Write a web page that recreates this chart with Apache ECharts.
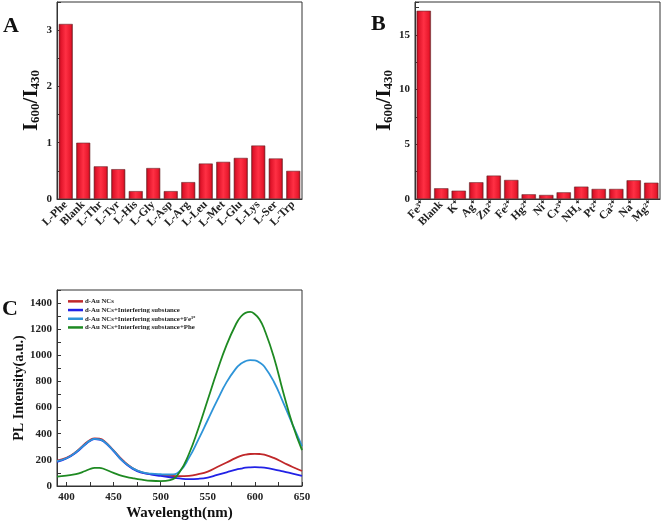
<!DOCTYPE html>
<html>
<head>
<meta charset="utf-8">
<script src="https://cdn.jsdelivr.net/npm/echarts@6/dist/echarts.min.js"></script>
<style>html,body{margin:0;padding:0;background:#fff}#c{width:661px;height:522px}</style>
</head>
<body>
<div id="c"></div>
<script>
// Panel A
const catA = ['L-Phe','Blank','L-Thr','L-Tyr','L-His','L-Gly','L-Asp','L-Arg','L-Leu','L-Met','L-Glu','L-Lys','L-Ser','L-Trp'];
const valA = [3.11,1.00,0.58,0.53,0.14,0.55,0.14,0.30,0.63,0.66,0.73,0.95,0.72,0.50];
// Panel B
const catB = ['Fe³⁺','Blank','K⁺','Ag⁺','Zn²⁺','Fe²⁺','Hg²⁺','Ni⁺','Cr³⁺','NH₄⁺','Pt²⁺','Ca²⁺','Na⁺','Mg²⁺'];
const valB = [17.2,0.98,0.76,1.53,2.14,1.74,0.43,0.37,0.61,1.13,0.92,0.92,1.71,1.49];
// Panel C
const seriesNamesC = ['d-Au NCs','d-Au NCs+Interfering substance','d-Au NCs+Interfering substance+Fe³⁺','d-Au NCs+Interfering substance+Phe'];
const wavelength = [390,400,410,420,425,430,435,440,450,460,470,480,490,500,510,520,530,540,550,560,570,580,585,590,595,600,605,610,620,630,640,650];
const auNCs      = [195,215,260,325,352,365,362,345,272,195,138,105,92,83,78,75,78,90,110,145,180,215,230,240,245,246,245,240,215,180,145,115];
const auInterf   = [185,210,255,318,345,358,355,338,267,188,133,102,88,77,67,58,52,55,65,85,105,125,133,140,143,144,143,140,128,112,95,78];
const auFe       = [190,212,258,320,347,360,357,340,270,190,137,106,95,90,88,112,215,355,505,655,795,900,935,955,964,962,945,915,800,640,470,305];
const auPhe      = [72,80,90,115,130,138,139,130,100,75,60,48,40,38,45,105,245,440,660,880,1080,1240,1295,1325,1332,1315,1275,1200,990,720,470,275];
const ticksCx = [400,450,500,550,600,650];
const ticksCxMinor = [400,425,450,475,500,525,550,575,600,625,650];

const FONT = 'Liberation Serif';
const axisCol = '#333';
const barColor = new echarts.graphic.LinearGradient(0,0,1,0,[
  {offset:0,color:'#9a0c18'},{offset:0.15,color:'#e0142a'},{offset:0.5,color:'#ff3044'},
  {offset:0.85,color:'#e8182c'},{offset:1,color:'#9a0c18'}]);

function yName(gap){
  return {
    name: '{b|I}{s|600}{b|/I}{s|430}',
    nameLocation: 'middle', nameGap: gap, nameRotate: 90,
    nameTextStyle: {
      rich: {
        b: {fontFamily: FONT, fontWeight: 'bold', fontSize: 21, color: '#111', lineHeight: 22},
        s: {fontFamily: FONT, fontWeight: 'bold', fontSize: 13, color: '#111', lineHeight: 22, verticalAlign: 'bottom', padding:[8,0,0,0]}
      }
    }
  };
}
const plain = v => String(v);

const chart = echarts.init(document.getElementById('c'), null, {renderer: 'canvas'});
const option = {
  animation: false,
  backgroundColor: '#fff',
  grid: [
    {left: 57, top: 2, width: 245, height: 197, show: true, borderColor: axisCol, borderWidth: 1},
    {left: 415, top: 2, width: 245, height: 197, show: true, borderColor: axisCol, borderWidth: 1},
    {left: 57, top: 290, width: 245, height: 196, show: true, borderColor: axisCol, borderWidth: 1}
  ],
  xAxis: [
    {gridIndex: 0, type: 'category', data: catA,
     axisLine: {lineStyle: {color: axisCol}}, axisTick: {show: false},
     axisLabel: {rotate: 45, margin: 4, fontFamily: FONT, fontWeight: 'bold', fontSize: 11.5, color: '#222', interval: 0}},
    {gridIndex: 1, type: 'category', data: catB,
     axisLine: {lineStyle: {color: axisCol}}, axisTick: {show: false},
     axisLabel: {rotate: 45, margin: 4, fontFamily: FONT, fontWeight: 'bold', fontSize: 11.5, color: '#222', interval: 0}},
    {gridIndex: 2, type: 'value', min: 390, max: 650,
     axisLine: {lineStyle: {color: axisCol}},
     axisTick: {inside: true, length: 4, customValues: ticksCxMinor, lineStyle: {color: axisCol}},
     axisLabel: {customValues: ticksCx, formatter: plain, margin: 6, fontFamily: FONT, fontWeight: 'bold', fontSize: 11, color: '#222'},
     splitLine: {show: false},
     name: 'Wavelength(nm)', nameLocation: 'middle', nameGap: 20,
     nameTextStyle: {fontFamily: FONT, fontWeight: 'bold', fontSize: 15, color: '#111'}}
  ],
  yAxis: [
    Object.assign({gridIndex: 0, type: 'value', min: 0, max: 3.5, interval: 1,
     axisLine: {show: true, lineStyle: {color: axisCol}},
     axisTick: {show: true, inside: true, length: 4, lineStyle: {color: axisCol}},
     minorTick: {show: true, splitNumber: 2, length: 4, lineStyle: {color: axisCol}},
     axisLabel: {showMaxLabel: false, formatter: plain, margin: 5, fontFamily: FONT, fontWeight: 'bold', fontSize: 11, color: '#222'},
     splitLine: {show: false}}, yName(11)),
    Object.assign({gridIndex: 1, type: 'value', min: 0, max: 18, interval: 5,
     axisLine: {show: true, lineStyle: {color: axisCol}},
     axisTick: {show: true, inside: true, length: 4, lineStyle: {color: axisCol}},
     minorTick: {show: true, splitNumber: 2, length: 4, lineStyle: {color: axisCol}},
     axisLabel: {showMaxLabel: false, formatter: plain, margin: 5, fontFamily: FONT, fontWeight: 'bold', fontSize: 11, color: '#222'},
     splitLine: {show: false}}, yName(17)),
    {gridIndex: 2, type: 'value', min: 0, max: 1500, interval: 200,
     axisLine: {show: true, lineStyle: {color: axisCol}},
     axisTick: {show: true, inside: true, length: 4, lineStyle: {color: axisCol}},
     minorTick: {show: true, splitNumber: 2, length: 4, lineStyle: {color: axisCol}},
     axisLabel: {showMaxLabel: false, formatter: plain, margin: 5, fontFamily: FONT, fontWeight: 'bold', fontSize: 11, color: '#222'},
     splitLine: {show: false},
     name: 'PL Intensity(a.u.)', nameLocation: 'middle', nameGap: 28,
     nameTextStyle: {fontFamily: FONT, fontWeight: 'bold', fontSize: 14, color: '#111'}}
  ],
  legend: {
    show: true, orient: 'vertical', left: 63, top: 292, itemGap: 0,
    itemWidth: 15, itemHeight: 2.5, icon: 'rect',
    textStyle: {fontFamily: FONT, fontWeight: 'bold', fontSize: 6.8, color: '#222', lineHeight: 8.7, padding: [0,0,0,-3]},
    data: seriesNamesC
  },
  series: [
    {type: 'bar', xAxisIndex: 0, yAxisIndex: 0, data: valA, barCategoryGap: '20%',
     itemStyle: {color: barColor, borderColor: '#6a2a2e', borderWidth: 0.6}},
    {type: 'bar', xAxisIndex: 1, yAxisIndex: 1, data: valB, barCategoryGap: '18%',
     itemStyle: {color: barColor, borderColor: '#6a2a2e', borderWidth: 0.6}},
    {type: 'line', name: seriesNamesC[0], xAxisIndex: 2, yAxisIndex: 2, smooth: true, showSymbol: false,
     data: wavelength.map((w,i) => [w, auNCs[i]]), lineStyle: {color: '#c0282a', width: 1.8}, itemStyle: {color: '#c0282a'}},
    {type: 'line', name: seriesNamesC[1], xAxisIndex: 2, yAxisIndex: 2, smooth: true, showSymbol: false,
     data: wavelength.map((w,i) => [w, auInterf[i]]), lineStyle: {color: '#2222e6', width: 1.8}, itemStyle: {color: '#2222e6'}},
    {type: 'line', name: seriesNamesC[2], xAxisIndex: 2, yAxisIndex: 2, smooth: true, showSymbol: false,
     data: wavelength.map((w,i) => [w, auFe[i]]), lineStyle: {color: '#2e94d8', width: 1.8}, itemStyle: {color: '#2e94d8'}},
    {type: 'line', name: seriesNamesC[3], xAxisIndex: 2, yAxisIndex: 2, smooth: true, showSymbol: false,
     data: wavelength.map((w,i) => [w, auPhe[i]]), lineStyle: {color: '#1e8a22', width: 1.8}, itemStyle: {color: '#1e8a22'}}
  ],
  graphic: [
    {type: 'text', left: 3, top: 15, style: {text: 'A', font: 'bold 22px "Liberation Serif"', fill: '#111'}},
    {type: 'text', left: 371, top: 13, style: {text: 'B', font: 'bold 22px "Liberation Serif"', fill: '#111'}},
    {type: 'text', left: 2, top: 298, style: {text: 'C', font: 'bold 22px "Liberation Serif"', fill: '#111'}}
  ]
};
chart.setOption(option);
</script>
</body>
</html>
